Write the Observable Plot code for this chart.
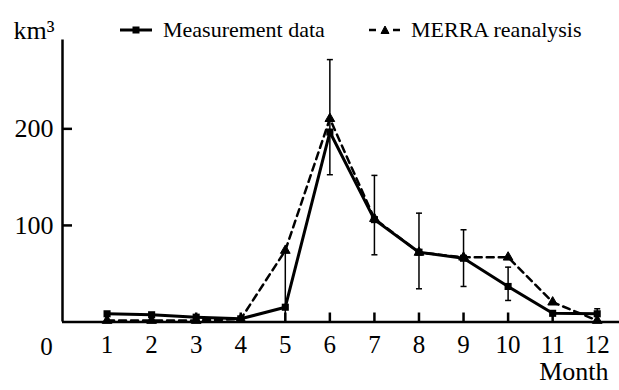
<!DOCTYPE html>
<html>
<head>
<meta charset="utf-8">
<script src="https://cdn.jsdelivr.net/npm/d3@7"></script>
<script src="https://cdn.jsdelivr.net/npm/@observablehq/plot@0.6"></script>
<style>
  html, body { margin: 0; padding: 0; background: #fff; }
  #wrap { position: relative; width: 619px; height: 390px; font-family: "Liberation Serif", "Times New Roman", serif; }
  #chart svg text { font-family: "Liberation Serif", "Times New Roman", serif; }
  #legend { position: absolute; left: 0; top: 0; width: 619px; height: 50px; pointer-events: none; }
  .lg { position: absolute; top: 17px; font-size: 22px; line-height: 26px; color: #000; white-space: nowrap; }
</style>
</head>
<body>
<div id="wrap">
  <div id="chart"></div>
  <div id="legend"></div>
</div>
<script>
// ---- data ----
const months = [1, 2, 3, 4, 5, 6, 7, 8, 9, 10, 11, 12];
const measurement = [8.5, 7.5, 5, 3.3, 15.3, 196.7, 106, 72.3, 66, 36.8, 9, 8.5];
const merra = [1.5, 1.5, 1.5, 3, 74, 210.5, 107, 72, 67, 67, 20.5, 1.5];
const errMonths = [5, 6, 7, 8, 9, 10, 12];
const errLow = [0, 152.5, 69.6, 34.4, 36.8, 22.3, 1];
const errHigh = [72, 271.7, 151.8, 112.7, 95.5, 56.8, 13.7];
const yTicks = [100, 200];
const seriesNames = ["Measurement data", "MERRA reanalysis"];
const yUnit = "km³";
const xLabel = "Month";

// ---- tables ----
const meas = months.map((m, i) => ({month: m, value: measurement[i]}));
const mer = months.map((m, i) => ({month: m, value: merra[i]}));
const errs = errMonths.map((m, i) => ({month: m, lo: errLow[i], hi: errHigh[i]}));

const capSymbol = {
  draw(context, size) {
    const w = Math.sqrt(size) / 2;
    context.moveTo(-w, 0);
    context.lineTo(w, 0);
  }
};

const font = "Liberation Serif";

const chart = Plot.plot({
  width: 619,
  height: 390,
  marginLeft: 62,
  marginRight: 0,
  marginTop: 39.5,
  marginBottom: 68.5,
  style: {fontFamily: font, fontSize: "25px", color: "#000", background: "#fff", overflow: "visible"},
  x: {domain: [0, 12.5]},
  y: {domain: [0, 292]},
  marks: [
    // error bars
    Plot.ruleX(errs, {x: "month", y1: "lo", y2: "hi", stroke: "#000", strokeWidth: 1.5}),
    Plot.dot(errs, {x: "month", y: "lo", symbol: capSymbol, r: 3.4, stroke: "#000", strokeWidth: 1.5}),
    Plot.dot(errs, {x: "month", y: "hi", symbol: capSymbol, r: 3.4, stroke: "#000", strokeWidth: 1.5}),
    // MERRA dashed line
    Plot.line(mer, {x: "month", y: "value", stroke: "#000", strokeWidth: 2.5, strokeDasharray: "7,5"}),
    // measurement line
    Plot.line(meas, {x: "month", y: "value", stroke: "#000", strokeWidth: 3}),
    Plot.dot(mer, {x: "month", y: "value", symbol: "triangle", r: 3.6, fill: "#000", stroke: "#000", strokeWidth: 1}),
    Plot.dot(meas, {x: "month", y: "value", symbol: "square", r: 4, fill: "#000"}),
    // axes lines
    Plot.ruleX([0], {stroke: "#000", strokeWidth: 2.5}),
    Plot.ruleY([0], {stroke: "#000", strokeWidth: 2.5}),
    // x axis: inward ticks + labels
    Plot.axisX(months, {tickSize: -9, strokeWidth: 2.5, tickFormat: () => "", label: null}),
    Plot.axisX(months, {tickSize: 0, tickPadding: 13, fontSize: 25, fontFamily: font, label: null}),
    // y axis: inward ticks + labels
    Plot.axisY(yTicks, {tickSize: -10, strokeWidth: 2.5, tickFormat: () => "", label: null}),
    Plot.axisY(yTicks, {tickSize: 0, tickPadding: 9, fontSize: 26, fontFamily: font, label: null}),
    // origin label
    Plot.text([0], {x: 0, y: 0, text: d => String(d), dx: -16, dy: 25, fontSize: 25, fontFamily: font}),
    // axis titles
    Plot.text([xLabel], {frameAnchor: "bottom-right", dx: -11, dy: 58, textAnchor: "end", fontSize: 26, fontFamily: font}),
    Plot.text([yUnit], {frameAnchor: "top-left", dx: -49, dy: -19, textAnchor: "start", fontSize: 26, fontFamily: font})
  ]
});
document.getElementById("chart").appendChild(chart);

// ---- legend (HTML overlay) ----
const legend = document.getElementById("legend");
legend.innerHTML = `
  <svg width="619" height="50" style="position:absolute;left:0;top:0">
    <line x1="120" y1="30" x2="152" y2="30" stroke="#000" stroke-width="3"/>
    <rect x="132.5" y="26.5" width="7" height="7" fill="#000"/>
    <line x1="369" y1="30" x2="376" y2="30" stroke="#000" stroke-width="2.5"/>
    <line x1="393" y1="30" x2="400" y2="30" stroke="#000" stroke-width="2.5"/>
    <path d="M385,26 L389,33.5 L381,33.5 Z" fill="#000" stroke="#000" stroke-width="1"/>
  </svg>
  <span class="lg" style="left:163px">${seriesNames[0]}</span>
  <span class="lg" style="left:411px">${seriesNames[1]}</span>
`;
</script>
</body>
</html>
